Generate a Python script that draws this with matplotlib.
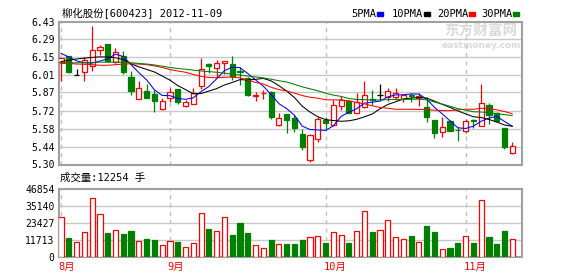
import matplotlib
matplotlib.use("Agg")
import matplotlib.pyplot as plt
import matplotlib.transforms as mtransforms
from matplotlib.patches import Rectangle
import numpy as np
import pandas as pd

# ---- data ----
title = "柳化股份[600423] 2012-11-09"
vol_title = "成交量:12254 手"
month_labels = ["8月", "9月", "10月", "11月"]
month_start_idx = [0, 14, 34, 52]
price_ticks = [5.30, 5.44, 5.58, 5.72, 5.87, 6.01, 6.15, 6.29, 6.43]
vol_ticks = [0, 11713, 23427, 35140, 46854]

opens = [6.110, 6.156, 6.005, 6.034, 6.080, 6.206, 6.253, 6.110, 6.156, 5.990,
         5.818, 5.879, 5.855, 5.741, 5.826, 5.896, 5.766, 5.781, 5.924, 6.097,
         6.062, 6.105, 6.094, 6.038, 5.988, 5.845, 5.862, 5.873, 5.611, 5.697,
         5.667, 5.545, 5.333, 5.502, 5.655, 5.612, 5.764, 5.799, 5.708, 5.757,
         5.815, 5.850, 5.833, 5.832, 5.818, 5.850, 5.825, 5.753, 5.649, 5.557,
         5.641, 5.576, 5.562, 5.656, 5.608, 5.774, 5.710, 5.586, 5.392]
highs = [6.145, 6.160, 6.054, 6.147, 6.396, 6.245, 6.253, 6.219, 6.200, 6.040,
         5.962, 5.940, 5.893, 5.830, 5.903, 5.897, 5.814, 5.909, 6.140, 6.107,
         6.125, 6.120, 6.160, 6.073, 5.990, 5.870, 5.890, 5.880, 5.709, 5.700,
         5.690, 5.580, 5.545, 5.678, 5.675, 5.810, 5.840, 5.810, 5.869, 5.962,
         5.888, 5.935, 5.905, 5.905, 5.860, 5.868, 5.865, 5.832, 5.652, 5.678,
         5.655, 5.598, 5.660, 5.662, 5.934, 5.790, 5.713, 5.590, 5.480]
lows = [5.960, 6.024, 6.005, 5.960, 6.042, 6.166, 6.115, 6.106, 6.020, 5.850,
        5.815, 5.829, 5.714, 5.735, 5.798, 5.777, 5.755, 5.775, 5.895, 6.024,
        5.984, 6.020, 5.969, 5.928, 5.842, 5.802, 5.820, 5.660, 5.605, 5.548,
        5.555, 5.414, 5.320, 5.478, 5.580, 5.604, 5.730, 5.704, 5.704, 5.750,
        5.768, 5.810, 5.800, 5.808, 5.795, 5.795, 5.766, 5.640, 5.510, 5.520,
        5.562, 5.485, 5.552, 5.585, 5.602, 5.618, 5.640, 5.424, 5.384]
closes = [6.140, 6.034, 6.005, 6.125, 6.204, 6.227, 6.116, 6.194, 6.032, 5.884,
          5.908, 5.830, 5.803, 5.806, 5.876, 5.797, 5.798, 5.862, 6.052, 6.076,
          6.104, 6.117, 6.002, 6.033, 5.847, 5.850, 5.867, 5.673, 5.671, 5.650,
          5.588, 5.438, 5.536, 5.657, 5.627, 5.772, 5.809, 5.708, 5.792, 5.847,
          5.810, 5.850, 5.878, 5.868, 5.852, 5.844, 5.845, 5.672, 5.550, 5.593,
          5.568, 5.572, 5.641, 5.643, 5.788, 5.692, 5.644, 5.437, 5.448]
volumes = [27506, 13054, 10023, 17017, 40793, 29604, 16550, 18415, 15851, 17949,
           10723, 12355, 11655, 7925, 10723, 10256, 7226, 9324, 30303, 19348,
           17716, 27506, 15152, 23543, 16550, 7925, 6527, 11655, 8625, 8858,
           8858, 11655, 13520, 14219, 9557, 17017, 14919, 9557, 17716, 31702,
           17250, 18415, 25408, 13520, 12121, 14452, 10023, 21445, 17250, 5828,
           6294, 9557, 14219, 9557, 39394, 13753, 8858, 17949, 12254]

# moving-average values before the window
ma5_head = [6.180, 6.150, 6.120, 6.105]
ma10_head = [6.115, 6.125, 6.135, 6.142, 6.148, 6.152, 6.150, 6.145, 6.130]
ma20_head = [6.100, 6.100, 6.095, 6.093, 6.090, 6.085, 6.085, 6.090, 6.095, 6.097,
             6.095, 6.090, 6.080, 6.068, 6.052, 6.040, 6.030, 6.012, 5.998]
ma30_head = [6.105, 6.105, 6.105, 6.106, 6.108, 6.110, 6.110, 6.110, 6.108, 6.105,
             6.100, 6.095, 6.088, 6.078, 6.068, 6.060, 6.054, 6.047, 6.040, 6.035,
             6.030, 6.022, 6.015, 6.008, 6.000, 5.993, 5.985, 5.975, 5.963]

RED = "#ff0000"
GREEN = "#008000"
GRID = "#c8c8c8"
FRAME = "#a0a0a0"
MONO_CJK = ["DejaVu Sans Mono", "Noto Sans CJK SC"]

W, H = 578, 276
o = np.array(opens)
h = np.array(highs)
l = np.array(lows)
c = np.array(closes)
v = np.array(volumes)
x = np.arange(len(c))


def moving_avg(n, head):
    ma = pd.Series(c).rolling(n).mean().to_numpy()
    ma[:n - 1] = head
    return ma


mas = [(moving_avg(5, ma5_head), "#0000ff"), (moving_avg(10, ma10_head), "#000000"),
       (moving_avg(20, ma20_head), RED), (moving_avg(30, ma30_head), GREEN)]

fig = plt.figure(figsize=(W / 100, H / 100), dpi=100)
fig.patch.set_facecolor("white")


def px_axes(left, top, right, bottom):
    return fig.add_axes([left / W, 1 - bottom / H, (right - left) / W, (bottom - top) / H])


def style_frame(ax):
    for s in ax.spines.values():
        s.set_color(FRAME)
        s.set_linewidth(1.5)
    ax.tick_params(length=0, pad=3, labelsize=7)
    for lab in ax.get_yticklabels():
        lab.set_family("DejaVu Sans Mono")
    for idx in month_start_idx:
        ax.axvline(idx, color="#c0c0c0", lw=1.0, ls=(0, (3, 3)), zorder=0)


# ---- price panel ----
ax = px_axes(58.7, 21.7, 522, 164.5)
ax.set_xlim(-0.3, 59.25)
ax.set_ylim(5.30, 6.43)
ax.set_yticks(price_ticks)
ax.set_yticklabels([f"{t:.2f}" for t in price_ticks])
ax.set_xticks([])
for t in price_ticks[1:-1]:
    ax.axhline(t, color=GRID, lw=1.0, zorder=0)
style_frame(ax)

# watermark
fig.text(481 / W, 1 - 31 / H, "东方财富网", color="#dadada", fontsize=10.5,
         fontweight="bold", family="Noto Sans CJK SC", ha="center", va="center", zorder=0)
fig.text(481 / W, 1 - 45.5 / H, "eastmoney.com", color="#dadada", fontsize=6.5,
         fontweight="bold", ha="center", va="center", zorder=0)

cand_col = np.where(c > o, RED, np.where(c < o, GREEN, "#000000"))
face_col = np.where(c > o, "white", cand_col)
body_bottom = np.minimum(o, c)
body_h = np.maximum(np.abs(c - o), 0.002)
ax.vlines(x, l, h, colors=cand_col, lw=0.9, zorder=2)
ax.bar(x, body_h, bottom=body_bottom, width=0.66, color=face_col,
       edgecolor=cand_col, linewidth=0.9, zorder=3)
for ma, col in mas:
    ax.plot(x, ma, color=col, lw=0.75, zorder=4)

# ---- volume panel ----
axv = px_axes(58.7, 189, 522, 257)
axv.set_xlim(-0.3, 59.25)
axv.set_ylim(0, vol_ticks[-1])
axv.set_yticks(vol_ticks)
axv.set_yticklabels([str(t) for t in vol_ticks])
axv.set_xticks([])
for t in vol_ticks[1:-1]:
    axv.axhline(t, color=GRID, lw=1.0, zorder=0)
style_frame(axv)

vol_col = np.where(c >= o, RED, GREEN)
vol_face = np.where(c >= o, "white", GREEN)
axv.bar(x, v, width=0.66, color=vol_face, edgecolor=vol_col, linewidth=0.9, zorder=3)

trans = mtransforms.blended_transform_factory(axv.transData, axv.transAxes)
for idx, lab in zip(month_start_idx, month_labels):
    axv.text(idx - 0.28, -0.08, lab, transform=trans, color=RED, fontsize=7.5,
             family=MONO_CJK, ha="left", va="top")

# ---- header texts ----
fig.text(62 / W, 1 - 14 / H, title, fontsize=7.5, family=MONO_CJK, ha="left", va="center")
fig.text(60 / W, 1 - 177.5 / H, vol_title, fontsize=7.5, family=MONO_CJK, ha="left", va="center")

legend_items = [("5PMA", 351, 376.5, "#0000ff"), ("10PMA", 392, 424, "#000000"),
                ("20PMA", 437, 469, RED), ("30PMA", 481, 513, GREEN)]
for lab, tx, rx, col in legend_items:
    fig.text(tx / W, 1 - 14 / H, lab, fontsize=7.5, family="DejaVu Sans Mono",
             ha="left", va="center")
    fig.patches.append(Rectangle((rx / W, 1 - 15.5 / H), 6 / W, 3 / H,
                                 transform=fig.transFigure, color=col))

fig.savefig("out.png", dpi=100)
